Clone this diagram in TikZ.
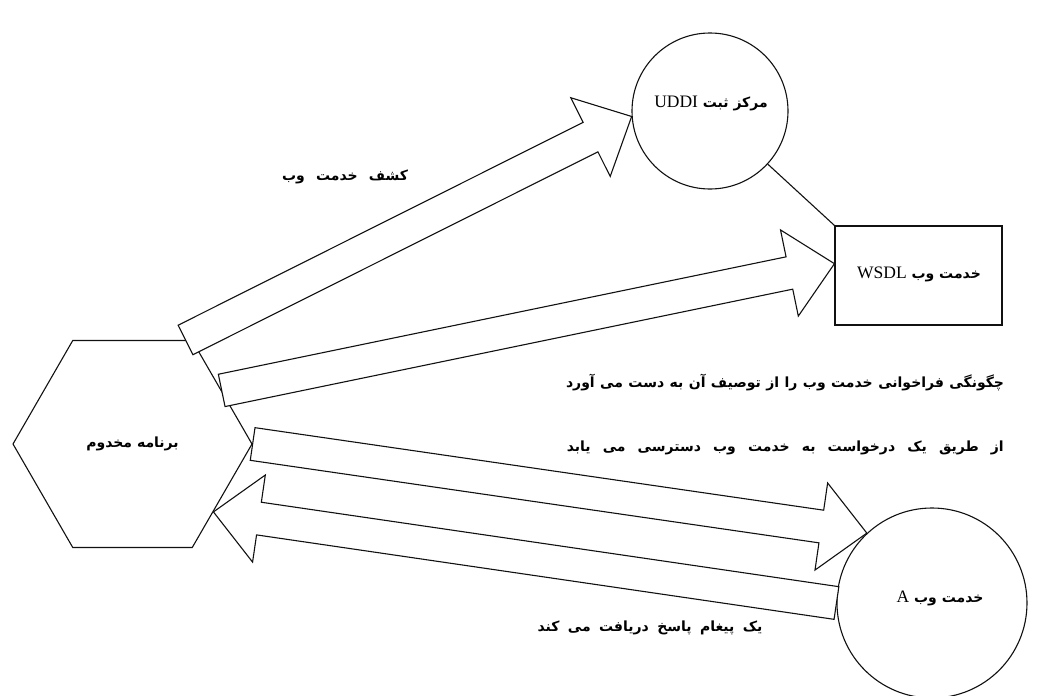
\documentclass[tikz,border=0pt]{standalone}
\usepackage{fontspec}
\usepackage{tikz}
\usetikzlibrary{calc,positioning,shapes.geometric}
\TeXXeTstate=1
\newfontfamily\farsi[Script=Arabic]{DejaVu Sans}
\newfontfamily\latinserif[Scale=1.25]{Liberation Serif}
\definecolor{ink}{HTML}{111111}
\newcommand{\fstr}[1]{\farsi\beginR #1\endR}
\newcommand{\lstr}[1]{\beginL{\mdseries\latinserif #1}\endL}
% half widths and head length of the fat arrows
\newcommand{\shaftw}{16.5pt}
\newcommand{\headw}{44pt}
\newcommand{\headlen}{46pt}
\tikzset{
  outline/.style={draw=ink,line width=1.1pt,fill=white},
  client/.style={outline,regular polygon,regular polygon sides=6,minimum size=239pt,inner sep=0pt,font=\bfseries\fontsize{14}{16}\selectfont},
  station/.style={outline,circle,inner sep=0pt},
  docbox/.style={outline,rectangle,minimum width=167pt,minimum height=99pt,inner sep=0pt},
  note/.style={inner sep=1pt,font=\bfseries\fontsize{14}{16}\selectfont},
  link/.style={draw=ink,line width=1.1pt},
  fatline/.style={outline,line join=miter}
}
\newcommand{\fatarrow}[2]{%
  \coordinate (fa-b) at ($(#2)!\headlen!(#1)$);
  \draw[fatline] ($(#1)!\shaftw!90:(#2)$) -- ($(fa-b)!\shaftw!-90:(#1)$)
    -- ($(fa-b)!\headw!-90:(#1)$) -- (#2) -- ($(fa-b)!\headw!90:(#1)$)
    -- ($(fa-b)!\shaftw!90:(#1)$) -- ($(#1)!\shaftw!-90:(#2)$) -- cycle;
}
\begin{document}
\begin{tikzpicture}[x=1pt,y=-1pt]
  \useasboundingbox[fill=white] (0,0) rectangle (1037,696);
  % nodes
  \node[client] (prog) at (132.5,444) {\fstr{برنامه مخدوم}};
  \node[station,minimum size=156pt] (uddi) at (710,111) {};
  \node[docbox] (wsdl) at (918.5,275.5) {};
  \node[station,minimum size=190pt] (servA) at (932,603) {};
  \node[note] (uddi-t) at (711,103) {\fstr{مرکز ثبت \lstr{UDDI}}};
  \node[note] (wsdl-t) at (919,274) {\fstr{خدمت وب \lstr{WSDL}}};
  \node[note] (servA-t) at (940,598) {\fstr{خدمت وب \lstr{A}}};
  \draw[link] (uddi) -- (wsdl.north west);
  % fat arrows
  \fatarrow{prog.63}{uddi.184}
  \fatarrow{prog.31}{wsdl.172}
  \fatarrow{prog.east}{servA.133}
  \fatarrow{servA.west}{prog.-40}
  % labels
  \node[note] (discover) at (345,177) {\makebox[126pt][s]{\farsi\beginR کشف خدمت وب\endR}};
  \node[note] (howto) at (785,383) {\makebox[438pt][s]{\farsi\beginR چگونگی فراخوانی خدمت وب را از توصیف آن به دست می آورد\endR}};
  \node[note,anchor=east] (request) at (1005,448) {\makebox[437pt][s]{\farsi\beginR از طریق یک درخواست به خدمت وب دسترسی می یابد\endR}};
  \node[note] (reply) at (650,628) {\makebox[225pt][s]{\farsi\beginR یک پیغام پاسخ دریافت می کند\endR}};
\end{tikzpicture}
\end{document}
